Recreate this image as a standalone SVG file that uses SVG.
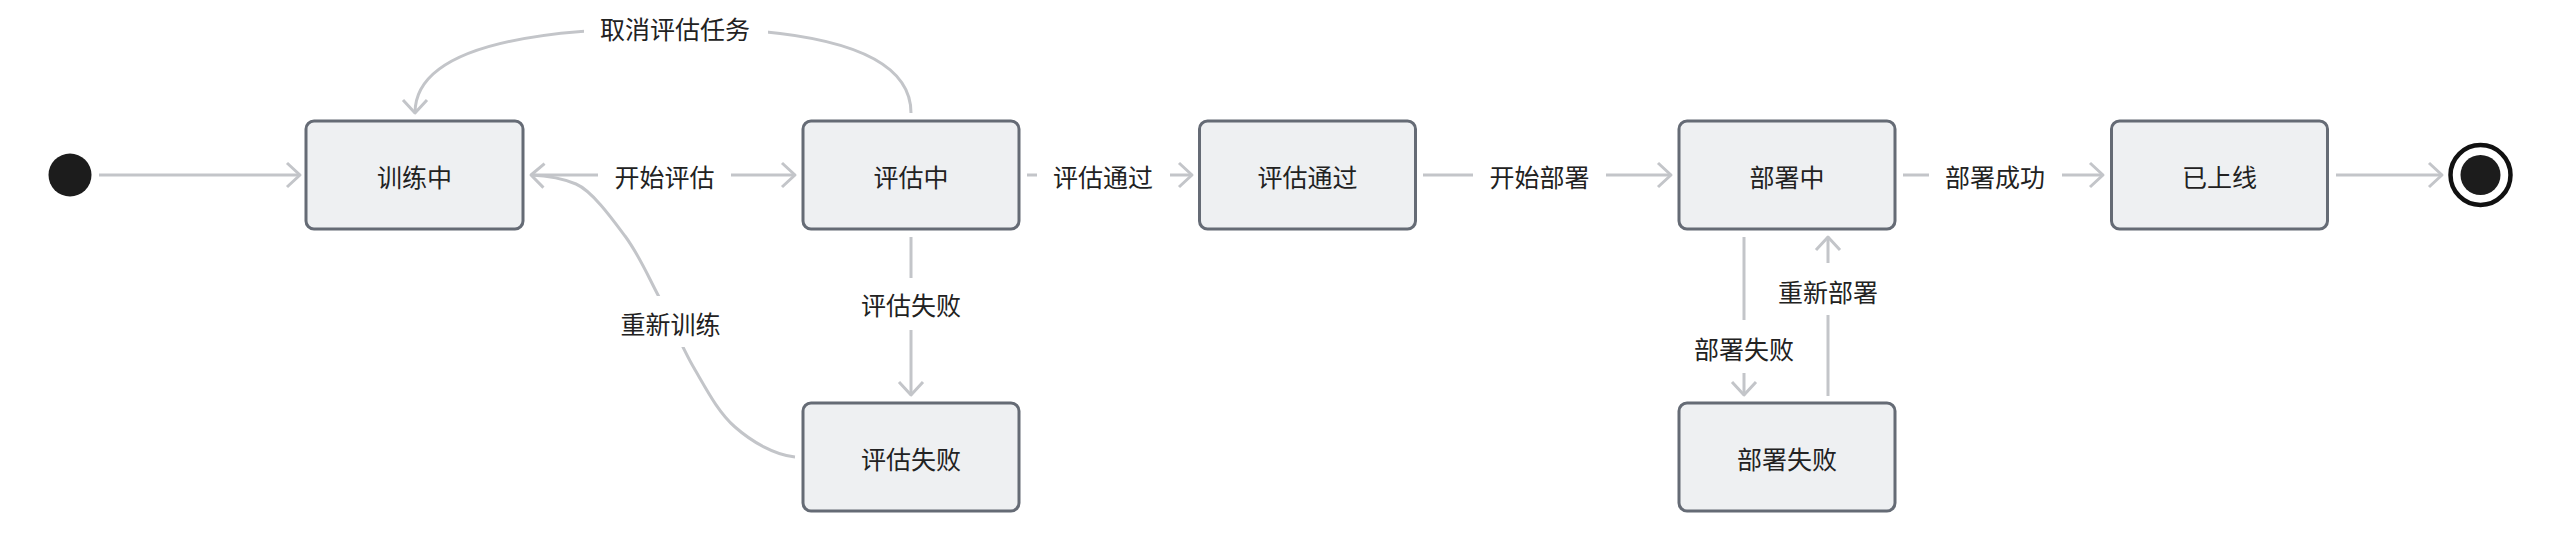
<svg xmlns="http://www.w3.org/2000/svg" width="2560" height="544" viewBox="0 0 2560 544">
<style>
.node rect{fill:#eef0f2;stroke:#656b75;stroke-width:3}
.lbl{font-family:"Noto Sans CJK SC","Noto Sans",sans-serif;font-size:25px;fill:#222;text-anchor:middle;dominant-baseline:central}
.edge{fill:none;stroke:#c3c5c9;stroke-width:3}
.lbg{fill:#ffffff}
</style>
<defs>
<marker id="arr" viewBox="-16 -15 20 30" refX="0" refY="0" markerWidth="20" markerHeight="30" markerUnits="userSpaceOnUse" orient="auto">
<path d="M-13,-12 L0,0 L-13,12" fill="none" stroke="#c3c5c9" stroke-width="3" stroke-linejoin="round"/>
</marker>
</defs>
<rect width="2560" height="544" fill="#ffffff"/>
<g id="connectors">
<path class="edge" d="M99,175 L300,175" marker-end="url(#arr)"/>
<path class="edge" d="M531,175 L795,175" marker-end="url(#arr)"/>
<path class="edge" d="M1027,175 L1192,175" marker-end="url(#arr)"/>
<path class="edge" d="M1423,175 L1671,175" marker-end="url(#arr)"/>
<path class="edge" d="M1903,175 L2103,175" marker-end="url(#arr)"/>
<path class="edge" d="M2336,175 L2442,175" marker-end="url(#arr)"/>
<path class="edge" d="M911,237 L911,395" marker-end="url(#arr)"/>
<path class="edge" d="M1744,237 L1744,395" marker-end="url(#arr)"/>
<path class="edge" d="M1828,396 L1828,237" marker-end="url(#arr)"/>
<path class="edge" d="M911,113 C911,40 780,28 675,28 C560,28 415,40 415,113" marker-end="url(#arr)"/>
<path class="edge" d="M795,457 C775,455.3 751.8,441.8 735,427 C718.2,412.2 706.8,390 694,368 C681.2,346 669.5,317 658,295 C646.5,273 638.7,254.5 625,236 C611.3,217.5 591.7,190.7 576,184 C560.3,177.3 546,175.7 531,175" marker-end="url(#arr)"/>
<g id="edge-labels">
<rect class="lbg" x="598" y="158" width="133" height="36"/><text class="lbl" x="664.5" y="176">开始评估</text>
<rect class="lbg" x="1037" y="158" width="133" height="36"/><text class="lbl" x="1103" y="176">评估通过</text>
<rect class="lbg" x="1473" y="158" width="133" height="36"/><text class="lbl" x="1539.5" y="176">开始部署</text>
<rect class="lbg" x="1929" y="158" width="133" height="36"/><text class="lbl" x="1995" y="176">部署成功</text>
<rect class="lbg" x="584" y="8" width="184" height="40"/><text class="lbl" x="675" y="28">取消评估任务</text>
<rect class="lbg" x="604" y="296" width="133" height="51"/><text class="lbl" x="670.5" y="323">重新训练</text>
<rect class="lbg" x="845" y="278" width="133" height="52"/><text class="lbl" x="911" y="304">评估失败</text>
<rect class="lbg" x="1678" y="320" width="132" height="53"/><text class="lbl" x="1744" y="348">部署失败</text>
<rect class="lbg" x="1762" y="263" width="132" height="52"/><text class="lbl" x="1828" y="291">重新部署</text>
</g>
</g>
<g id="start"><circle cx="70" cy="175" r="21.5" fill="#1c1c1c"/></g>
<g id="end"><circle cx="2480.5" cy="175" r="30" fill="#ffffff" stroke="#111" stroke-width="4.5"/><circle cx="2480.5" cy="175" r="20" fill="#1c1c1c"/></g>
<g id="n-training" class="node"><rect x="306" y="121" width="217" height="108" rx="8"/><text class="lbl" x="414.5" y="176">训练中</text></g>
<g id="n-evaluating" class="node"><rect x="803" y="121" width="216" height="108" rx="8"/><text class="lbl" x="911" y="176">评估中</text></g>
<g id="n-evalpass" class="node"><rect x="1199.5" y="121" width="216" height="108" rx="8"/><text class="lbl" x="1307.5" y="176">评估通过</text></g>
<g id="n-deploying" class="node"><rect x="1679" y="121" width="216" height="108" rx="8"/><text class="lbl" x="1787" y="176">部署中</text></g>
<g id="n-online" class="node"><rect x="2111.5" y="121" width="216" height="108" rx="8"/><text class="lbl" x="2219.5" y="176">已上线</text></g>
<g id="n-evalfail" class="node"><rect x="803" y="403" width="216" height="108" rx="8"/><text class="lbl" x="911" y="458">评估失败</text></g>
<g id="n-deployfail" class="node"><rect x="1679" y="403" width="216" height="108" rx="8"/><text class="lbl" x="1787" y="458">部署失败</text></g>
</svg>
